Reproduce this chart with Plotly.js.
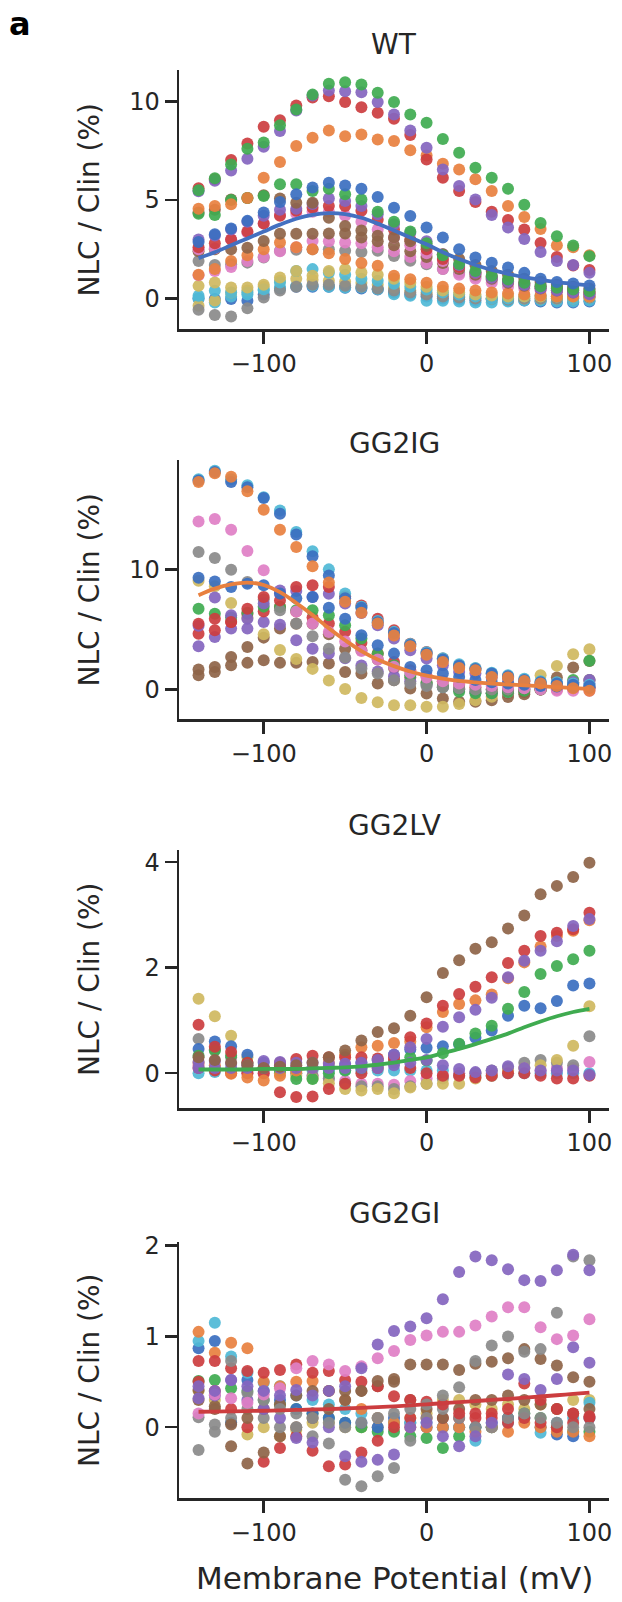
<!DOCTYPE html>
<html>
<head>
<meta charset="utf-8">
<script src="https://cdn.plot.ly/plotly-3.0.1.min.js"></script>
<style>html,body{margin:0;padding:0;background:#fff;}#chart{width:622px;height:1602px;}</style>
</head>
<body>
<div id="chart"></div>
<script>
// Membrane potential (mV)
const voltage = [-140,-130,-120,-110,-100,-90,-80,-70,-60,-50,-40,-30,-20,-10,0,10,20,30,40,50,60,70,80,90,100];

const panelTitles = ['WT','GG2IG','GG2LV','GG2GI'];
const xTickVals = [-100,0,100];
const xTickText = ['\u2212100','0','100'];
const yTickVals = [[0,5,10],[0,10],[0,2,4],[0,1,2]];
const yLabel = 'NLC / Clin (%)';
const xLabel = 'Membrane Potential (mV)';

// ---------- WT ----------
const wt_green_hi  = [5.5,6.1,6.8,7.6,7.92,8.8,9.6,10.35,10.9,10.98,10.86,10.44,9.97,9.34,8.92,8.1,7.4,6.64,6.13,5.57,4.76,3.83,3.16,2.69,2.15];
const wt_purple_hi = [5.44,5.98,6.5,7.09,7.7,8.5,9.54,10.3,10.56,10.52,10.47,9.97,9.34,8.53,7.65,6.55,5.71,5.03,4.24,3.6,3.02,2.36,1.9,1.7,1.3];
const wt_red_hi    = [5.6,6.05,7.03,7.87,8.72,9.05,9.8,10.2,10.27,9.97,9.71,9.43,9.12,8.3,7.06,6.13,5.46,4.9,4.4,3.99,3.5,2.82,2.11,1.67,1.45];
const wt_orange_hi = [4.56,4.7,4.78,5.1,6.13,6.93,7.74,8.16,8.53,8.24,8.33,8.07,7.99,7.52,7.26,6.84,6.55,6.05,5.46,4.7,4.14,3.53,2.7,2.6,2.2];
const wt_blue_mid  = [2.87,3.26,3.55,3.94,4.36,4.9,5.29,5.63,5.88,5.74,5.57,5.15,4.61,4.19,3.6,3.09,2.5,2.08,1.82,1.57,1.3,1.0,0.84,0.76,0.66];
const wt_green_mid = [4.3,4.24,5.0,5.1,5.2,5.8,5.8,5.46,5.57,5.29,5.03,4.4,3.9,3.4,2.8,2.2,1.75,1.4,1.15,0.96,0.8,0.62,0.54,0.46,0.37];
const wt_purple_mid= [3.0,3.2,3.5,3.9,4.2,4.5,4.56,4.8,5.07,4.95,4.7,4.27,3.77,3.34,2.9,2.25,1.7,1.3,1.05,0.85,0.68,0.52,0.4,0.3,0.22];
const wt_red_mid   = [2.6,2.8,3.0,3.4,3.8,4.2,4.45,4.6,4.7,4.7,4.45,4.0,3.5,3.0,2.5,2.0,1.6,1.3,1.1,0.9,0.75,0.6,0.5,0.4,0.3];
const wt_brown_a   = [4.36,4.5,5.03,5.1,5.24,5.07,4.86,4.86,4.1,3.68,3.45,3.18,3.09,2.9,2.67,2.25,2.0,1.7,1.4,1.2,1.0,0.85,0.7,0.6,0.5];
const wt_brown_b   = [2.4,2.5,2.5,2.58,2.92,3.29,3.29,3.29,3.3,3.3,3.1,2.9,2.7,2.4,2.1,1.8,1.5,1.2,1.0,0.8,0.65,0.5,0.4,0.3,0.25];
const wt_pink_a    = [2.5,2.55,3.0,3.34,3.82,4.24,4.3,4.4,4.4,4.2,3.9,3.5,3.1,2.7,2.3,1.9,1.6,1.3,1.1,0.9,0.75,0.6,0.5,0.4,0.35];
const wt_pink_b    = [1.18,1.4,1.6,1.9,2.1,2.4,2.6,2.92,2.9,2.84,2.8,2.6,2.4,2.1,1.8,1.5,1.2,1.0,0.8,0.6,0.5,0.4,0.3,0.25,0.2];
const wt_gray_a    = [1.9,1.7,1.74,1.82,2.08,2.42,2.47,2.5,2.5,2.42,2.36,2.42,2.16,1.91,1.74,1.49,1.3,1.1,0.95,0.88,0.8,0.7,0.6,0.5,0.45];
const wt_gray_b    = [-0.57,-0.84,-0.91,-0.5,0.05,0.4,0.6,0.7,0.7,0.65,0.6,0.5,0.4,0.3,0.2,0.1,0.05,0.0,0.0,-0.05,0.0,0.0,0.0,0.05,0.05];
const wt_olive_a   = [0.64,0.81,0.56,0.56,0.7,1.06,1.4,1.15,1.4,1.49,1.32,1.2,1.0,0.8,0.6,0.4,0.3,0.2,0.15,0.1,0.1,0.1,0.1,0.1,0.1];
const wt_olive_b   = [-0.37,-0.1,0.3,0.4,0.6,0.9,1.0,0.95,0.9,0.85,0.8,0.7,0.55,0.4,0.3,0.2,0.1,0.05,0.0,0.0,0.0,0.0,0.0,0.0,0.05];
const wt_cyan_a    = [0.14,0.39,0.3,0.3,0.47,0.81,1.4,1.49,1.3,1.2,1.0,0.9,0.75,0.6,0.45,0.3,0.2,0.1,0.0,0.0,0.1,0.15,0.1,0.0,0.1];
const wt_cyan_b    = [0.0,-0.2,0.1,0.2,0.4,0.56,0.64,0.64,0.6,0.56,0.56,0.47,0.22,0.14,-0.12,-0.12,-0.15,-0.2,-0.2,-0.15,-0.1,-0.1,-0.15,-0.15,-0.1];
const wt_blue_low  = [0.0,-0.03,-0.03,-0.12,0.2,0.5,0.6,0.6,0.6,0.55,0.5,0.45,0.3,0.2,0.1,0.0,-0.05,-0.1,-0.05,-0.1,-0.1,-0.15,-0.2,-0.2,-0.15];
const wt_orange_low= [1.2,1.5,1.9,2.2,2.5,2.84,2.6,2.5,2.3,2.0,1.8,1.66,1.15,0.98,0.8,0.6,0.5,0.4,0.3,0.25,0.2,0.15,0.1,0.1,0.1];
const wt_fit       = [2.05,2.35,2.7,3.05,3.4,3.75,4.05,4.25,4.33,4.28,4.1,3.8,3.45,3.1,2.75,2.35,2.0,1.7,1.45,1.25,1.08,0.95,0.83,0.74,0.66];

// ---------- GG2IG ----------
const ig_cyan_hi   = [17.5,18.2,17.5,17.0,16.0,14.9,13.1,11.5,10.0,8.0,6.9,5.7,4.8,3.8,3.1,2.6,2.1,1.8,1.4,1.2,0.9,0.7,0.6,0.5,0.4];
const ig_blue_hi   = [17.4,18.1,17.26,16.84,15.93,14.63,12.9,11.1,9.5,7.6,6.8,5.6,4.7,3.7,3.0,2.5,2.0,1.7,1.33,1.1,0.8,0.6,0.5,0.4,0.3];
const ig_orange_hi = [17.26,18.0,17.7,16.5,14.96,13.3,11.86,10.25,8.9,7.3,6.4,5.5,4.5,3.6,2.9,2.3,1.8,1.6,1.05,1.0,0.72,0.5,0.3,0.1,-0.1];
const ig_pink      = [13.99,14.2,13.3,11.52,9.92,8.0,6.5,5.5,4.79,4.0,3.2,2.5,1.9,1.4,1.0,0.7,0.5,0.4,0.3,0.2,0.1,0.0,-0.1,-0.1,-0.1];
const ig_gray      = [11.44,10.94,9.97,8.95,7.5,6.6,5.5,4.43,3.4,2.66,1.75,1.33,0.78,0.5,0.3,0.2,0.1,0.0,0.0,0.0,0.1,0.2,0.4,0.6,0.8];
const ig_blue_b    = [9.3,9.0,8.53,8.8,8.67,8.0,7.6,7.7,6.81,5.9,4.52,3.68,2.99,1.88,1.61,1.33,1.05,0.8,0.6,0.5,0.4,0.3,0.25,0.2,0.2];
const ig_olive     = [9.05,8.6,7.2,6.0,4.6,3.3,2.55,1.72,0.75,0.05,-0.7,-1.05,-1.3,-1.3,-1.44,-1.44,-1.2,-0.9,-0.6,-0.2,0.3,1.2,1.97,2.94,3.35];
const ig_green     = [6.73,6.3,6.0,6.4,6.9,6.87,6.59,6.59,6.18,5.35,4.24,2.99,2.02,1.19,0.5,0.22,-0.19,-0.3,-0.3,-0.2,-0.1,0.0,0.2,0.8,2.4];
const ig_red_a     = [5.48,5.9,5.62,6.73,7.7,7.42,8.53,8.67,8.53,7.76,7.0,5.9,4.93,3.82,3.13,2.58,1.88,1.75,1.3,1.0,0.7,0.5,0.3,0.2,0.1];
const ig_purple_a  = [5.3,7.65,6.18,5.9,7.15,8.25,8.2,7.7,7.98,7.15,6.37,5.35,4.24,3.27,2.58,2.02,1.47,1.33,1.0,0.6,0.5,0.4,0.5,0.6,0.8];
const ig_purple_b  = [3.6,4.38,5.07,5.07,5.62,5.4,4.1,3.4,3.0,2.6,2.0,1.5,1.1,0.7,0.4,0.2,0.0,-0.2,-0.3,-0.2,0.0,0.1,0.2,0.4,0.5];
const ig_red_b     = [4.65,4.93,5.62,6.3,6.5,6.9,6.5,6.0,5.5,4.8,3.9,3.0,2.3,1.6,1.1,0.7,0.4,0.2,0.0,-0.1,0.0,0.0,0.0,0.1,0.2];
const ig_brown_a   = [1.66,1.88,2.71,3.55,4.32,5.07,5.48,5.48,4.6,3.4,3.27,2.5,1.8,1.0,0.6,0.3,0.0,-0.2,-0.3,-0.3,-0.2,0.0,0.2,0.5,0.8];
const ig_brown_b   = [1.19,1.47,2.02,2.22,2.44,2.22,2.22,2.3,2.16,1.47,1.33,0.5,0.78,0.08,-0.33,-0.75,-1.02,-1.02,-0.89,-0.61,-0.39,0.0,1.0,1.83,2.38];
const ig_fit       = [7.85,8.4,8.75,8.9,8.7,8.1,7.2,6.2,5.1,4.1,3.2,2.5,1.95,1.5,1.15,0.9,0.72,0.6,0.5,0.42,0.35,0.28,0.2,0.12,0.05];

// ---------- GG2LV ----------
const lv_brown_hi  = [0.3,0.25,0.2,0.15,0.1,0.12,0.15,0.2,0.3,0.43,0.62,0.78,0.85,1.09,1.44,1.9,2.14,2.36,2.48,2.74,2.99,3.39,3.55,3.72,3.99];
const lv_red_hi    = [0.92,0.5,0.4,0.2,0.1,0.2,0.27,0.33,0.3,0.3,0.3,0.28,0.3,0.68,0.94,1.28,1.5,1.64,1.82,2.09,2.32,2.6,2.66,2.73,3.04];
const lv_orange_hi = [0.2,0.15,-0.01,-0.08,-0.14,-0.05,0.05,0.1,0.2,0.35,0.49,0.52,0.57,0.6,0.87,1.16,1.31,1.38,1.49,1.8,2.1,2.4,2.6,2.7,2.9];
const lv_purple_hi = [0.21,0.23,0.18,0.15,0.23,0.21,0.2,0.2,0.18,0.18,0.2,0.25,0.35,0.49,0.65,0.88,1.06,1.2,1.43,1.82,2.13,2.32,2.5,2.79,2.92];
const lv_green_hi  = [0.33,0.43,0.33,0.2,0.1,0.05,-0.11,-0.11,0.0,0.05,0.1,0.15,0.2,0.3,0.24,0.38,0.56,0.75,0.9,1.22,1.54,1.88,2.03,2.16,2.32];
const lv_blue_hi   = [0.46,0.6,0.51,0.35,0.2,0.15,0.1,0.1,0.1,0.15,0.2,0.25,0.35,0.45,0.48,0.51,0.55,0.67,0.81,1.09,1.28,1.23,1.37,1.66,1.7];
const lv_olive     = [1.41,1.08,0.71,0.3,0.1,0.0,-0.05,-0.1,-0.19,-0.3,-0.33,-0.3,-0.38,-0.27,-0.2,-0.2,-0.2,-0.1,-0.05,0.05,0.1,0.15,0.25,0.52,1.27];
const lv_gray      = [0.65,0.45,0.3,0.2,0.1,0.05,0.0,-0.05,-0.1,-0.2,-0.25,-0.25,-0.3,-0.25,-0.2,-0.1,-0.05,0.0,0.05,0.1,0.2,0.25,0.2,0.15,0.7];
const lv_pink      = [0.15,0.1,0.05,0.0,0.0,0.0,0.0,-0.05,-0.1,-0.15,-0.2,-0.2,-0.22,-0.15,-0.1,-0.05,0.0,0.0,0.0,0.05,0.1,0.05,0.1,0.1,0.21];
const lv_cyan      = [0.0,0.02,0.05,0.05,0.05,0.05,0.05,0.05,0.05,0.05,0.05,0.05,0.05,0.05,0.05,0.05,0.0,-0.05,-0.05,0.0,0.0,0.0,0.0,0.0,0.0];
const lv_red_b     = [0.1,0.05,0.0,0.0,0.0,-0.36,-0.45,-0.44,-0.3,-0.2,0.0,0.1,0.25,0.1,0.0,-0.05,-0.05,-0.08,-0.05,0.0,0.0,-0.05,-0.1,-0.1,-0.05];
const lv_purple_b  = [0.1,0.1,0.1,0.1,0.1,0.1,0.1,0.1,0.1,0.1,0.1,0.1,0.15,0.2,0.25,0.15,0.08,0.02,0.05,0.13,0.1,0.05,0.05,0.05,-0.03];
const lv_fit       = [0.07,0.07,0.07,0.07,0.08,0.08,0.08,0.09,0.1,0.11,0.13,0.16,0.2,0.25,0.3,0.38,0.46,0.55,0.65,0.75,0.87,0.98,1.08,1.16,1.22];

// ---------- GG2GI ----------
const gi_purple_hi = [0.32,0.4,0.52,0.45,0.4,0.35,0.41,0.35,0.4,0.45,0.65,0.91,1.06,1.11,1.2,1.41,1.71,1.88,1.84,1.74,1.62,1.61,1.73,1.9,1.73];
const gi_pink_hi   = [0.15,0.36,0.32,0.27,0.36,0.43,0.65,0.73,0.69,0.62,0.67,0.76,0.84,0.96,1.01,1.05,1.05,1.12,1.22,1.32,1.32,1.1,0.97,1.01,1.19];
const gi_gray_hi   = [0.11,0.03,0.73,0.38,0.3,0.2,0.15,0.1,0.05,0.0,0.05,0.1,0.15,0.2,0.25,0.35,0.44,0.73,0.9,1.0,0.83,0.86,1.26,1.88,1.84];
const gi_gray_low  = [-0.25,-0.05,0.1,0.2,0.1,0.0,0.0,-0.1,-0.18,-0.58,-0.65,-0.54,-0.45,-0.15,0.1,0.2,0.1,0.0,0.0,0.1,0.15,0.1,0.05,0.0,0.0];
const gi_brown_hi  = [0.41,0.23,0.03,0.1,0.2,0.25,0.35,0.4,0.4,0.4,0.4,0.51,0.53,0.69,0.69,0.69,0.63,0.7,0.72,0.76,0.86,0.75,0.68,0.55,0.5];
const gi_brown_low = [0.3,0.2,-0.21,-0.4,-0.28,-0.1,0.0,0.1,0.2,0.3,0.4,0.45,0.5,0.3,0.2,0.1,0.2,0.3,0.3,0.35,0.3,0.25,0.2,0.15,0.2];
const gi_red_hi    = [0.73,0.73,0.65,0.62,0.6,0.63,0.69,0.6,0.62,0.52,0.5,0.45,0.34,0.3,0.28,0.25,0.15,0.15,0.15,0.2,0.48,0.3,0.2,0.15,0.12];
const gi_red_low   = [0.5,0.4,0.2,0.0,-0.38,-0.23,-0.1,-0.26,-0.43,-0.41,-0.28,-0.15,0.0,0.1,0.1,0.1,0.1,0.1,0.1,0.05,0.1,0.05,0.0,0.05,0.1];
const gi_orange    = [1.05,0.82,0.93,0.87,0.5,0.45,0.5,0.51,0.4,0.3,0.2,0.1,0.05,0.0,0.0,0.0,0.0,-0.05,0.0,-0.05,0.05,0.0,-0.05,-0.05,-0.1];
const gi_cyan      = [0.95,1.15,0.78,0.6,0.49,0.45,0.35,0.3,0.25,0.2,0.15,0.1,0.05,0.05,0.05,0.0,0.0,-0.15,0.0,0.05,0.1,-0.06,0.05,0.1,0.27];
const gi_blue      = [0.87,0.95,0.05,0.52,0.4,0.3,0.2,0.15,0.1,0.05,0.05,0.0,0.1,0.05,0.0,0.0,0.0,0.0,0.05,0.1,0.1,0.0,-0.08,-0.1,0.1];
const gi_green     = [0.51,0.52,0.43,0.4,0.3,0.25,0.2,0.15,0.1,0.05,0.0,-0.05,-0.05,-0.1,-0.12,-0.23,-0.1,0.0,0.0,0.1,0.15,0.1,0.0,-0.05,-0.05];
const gi_olive     = [0.4,0.3,0.05,-0.08,0.0,-0.1,-0.03,0.05,0.05,0.0,0.0,0.0,0.05,0.1,0.15,0.3,0.3,0.25,0.2,0.25,0.2,0.25,0.2,0.3,0.3];
const gi_purple_b  = [0.45,0.35,0.52,0.3,0.2,0.1,-0.12,-0.17,0.0,-0.32,-0.38,-0.36,-0.3,0.0,0.05,-0.1,-0.21,-0.1,0.05,0.58,0.53,0.41,0.53,0.88,0.71];
const gi_fit       = [0.17,0.172,0.175,0.178,0.181,0.185,0.19,0.195,0.2,0.206,0.213,0.22,0.23,0.24,0.252,0.264,0.276,0.288,0.3,0.312,0.325,0.338,0.352,0.366,0.38];

// ---------- styling ----------
const COL = {blue:'#3b6fc0', orange:'#e8803f', green:'#3fab50', red:'#cc3d3f', purple:'#8465bf',
             brown:'#8e6448', pink:'#df7fc6', gray:'#8a8a8a', olive:'#cfb85f', cyan:'#4fb9d6'};
const ink = '#262626';
const FONT = 'DejaVu Sans, Verdana, sans-serif';

const panels = [
  {series:[['blue',wt_blue_low],['cyan',wt_cyan_b],['olive',wt_olive_b],['gray',wt_gray_b],['cyan',wt_cyan_a],['olive',wt_olive_a],
           ['gray',wt_gray_a],['pink',wt_pink_b],['orange',wt_orange_low],['brown',wt_brown_b],['pink',wt_pink_a],['red',wt_red_mid],
           ['purple',wt_purple_mid],['brown',wt_brown_a],['green',wt_green_mid],['blue',wt_blue_mid],['orange',wt_orange_hi],
           ['red',wt_red_hi],['purple',wt_purple_hi],['green',wt_green_hi]],
   fit:wt_fit, fitColor:'#4470c0', range:[-1.55,11.6], py:[70,329]},
  {series:[['brown',ig_brown_b],['brown',ig_brown_a],['olive',ig_olive],['purple',ig_purple_b],['red',ig_red_b],['green',ig_green],
           ['gray',ig_gray],['pink',ig_pink],['purple',ig_purple_a],['red',ig_red_a],['blue',ig_blue_b],['cyan',ig_cyan_hi],
           ['blue',ig_blue_hi],['orange',ig_orange_hi]],
   fit:ig_fit, fitColor:'#e8803f', range:[-2.45,19.1], py:[460,719]},
  {series:[['cyan',lv_cyan],['pink',lv_pink],['gray',lv_gray],['olive',lv_olive],['red',lv_red_b],['blue',lv_blue_hi],
           ['green',lv_green_hi],['orange',lv_orange_hi],['red',lv_red_hi],['purple',lv_purple_hi],['purple',lv_purple_b],['brown',lv_brown_hi]],
   fit:lv_fit, fitColor:'#3fab50', range:[-0.66,4.23], py:[850,1108]},
  {series:[['olive',gi_olive],['green',gi_green],['blue',gi_blue],['cyan',gi_cyan],['orange',gi_orange],['red',gi_red_low],
           ['brown',gi_brown_low],['gray',gi_gray_low],['red',gi_red_hi],['brown',gi_brown_hi],['purple',gi_purple_b],
           ['gray',gi_gray_hi],['pink',gi_pink_hi],['purple',gi_purple_hi]],
   fit:gi_fit, fitColor:'#cc3d3f', range:[-0.78,2.04], py:[1242,1498]}
];
const titleY = [45, 443, 825, 1213];

const W = 622, H = 1602;
const xDom = [179/W, 609/W];
const traces = [];
const layout = {
  width:W, height:H, margin:{l:0,r:0,t:0,b:0}, paper_bgcolor:'#fff', plot_bgcolor:'#fff',
  showlegend:false, font:{family:FONT, color:ink}, annotations:[]
};

panels.forEach((p, i) => {
  const k = i === 0 ? '' : String(i+1);
  const xa = 'x'+k, ya = 'y'+k;
  p.series.forEach(([c, vals]) => {
    traces.push({x:voltage, y:vals, xaxis:xa, yaxis:ya, type:'scatter', mode:'markers',
      marker:{size:12, color:COL[c], opacity:0.92, line:{width:0}}, hoverinfo:'skip'});
  });
  traces.push({x:voltage, y:p.fit, xaxis:xa, yaxis:ya, type:'scatter', mode:'lines',
    line:{color:p.fitColor, width:3.8, shape:'spline'}, hoverinfo:'skip'});
  const yDom = [1 - p.py[1]/H, 1 - p.py[0]/H];
  const common = {showline:true, linecolor:ink, linewidth:2.5, ticks:'outside', ticklen:12, tickwidth:2.5,
    tickcolor:ink, showgrid:false, zeroline:false, tickfont:{family:FONT, size:24, color:ink}, fixedrange:true, automargin:false};
  layout['xaxis'+k] = Object.assign({}, common, {domain:xDom, anchor:ya, range:[-152,112],
    tickmode:'array', tickvals:xTickVals, ticktext:xTickText});
  layout['yaxis'+k] = Object.assign({}, common, {domain:yDom, anchor:xa, range:p.range,
    tickmode:'array', tickvals:yTickVals[i], ticktext:yTickVals[i].map(String)});
  layout.annotations.push({text:panelTitles[i], xref:'paper', yref:'paper', x:(xDom[0]+xDom[1])/2, y:1-titleY[i]/H,
    xanchor:'center', yanchor:'middle', showarrow:false, font:{family:FONT, size:28, color:ink}});
  layout.annotations.push({text:yLabel, xref:'paper', yref:'paper', x:89/W, y:(yDom[0]+yDom[1])/2,
    xanchor:'center', yanchor:'middle', textangle:-90, showarrow:false, font:{family:FONT, size:28, color:ink}});
});
layout.annotations.push({text:xLabel, xref:'paper', yref:'paper', x:(xDom[0]+xDom[1])/2, y:1-1578/H,
  xanchor:'center', yanchor:'middle', showarrow:false, font:{family:FONT, size:31, color:ink}});
layout.annotations.push({text:'<b>a</b>', xref:'paper', yref:'paper', x:20/W, y:1-24/H,
  xanchor:'center', yanchor:'middle', showarrow:false, font:{family:FONT, size:32, color:'#000'}});

Plotly.newPlot('chart', traces, layout, {staticPlot:true, displayModeBar:false});
</script>
</body>
</html>
